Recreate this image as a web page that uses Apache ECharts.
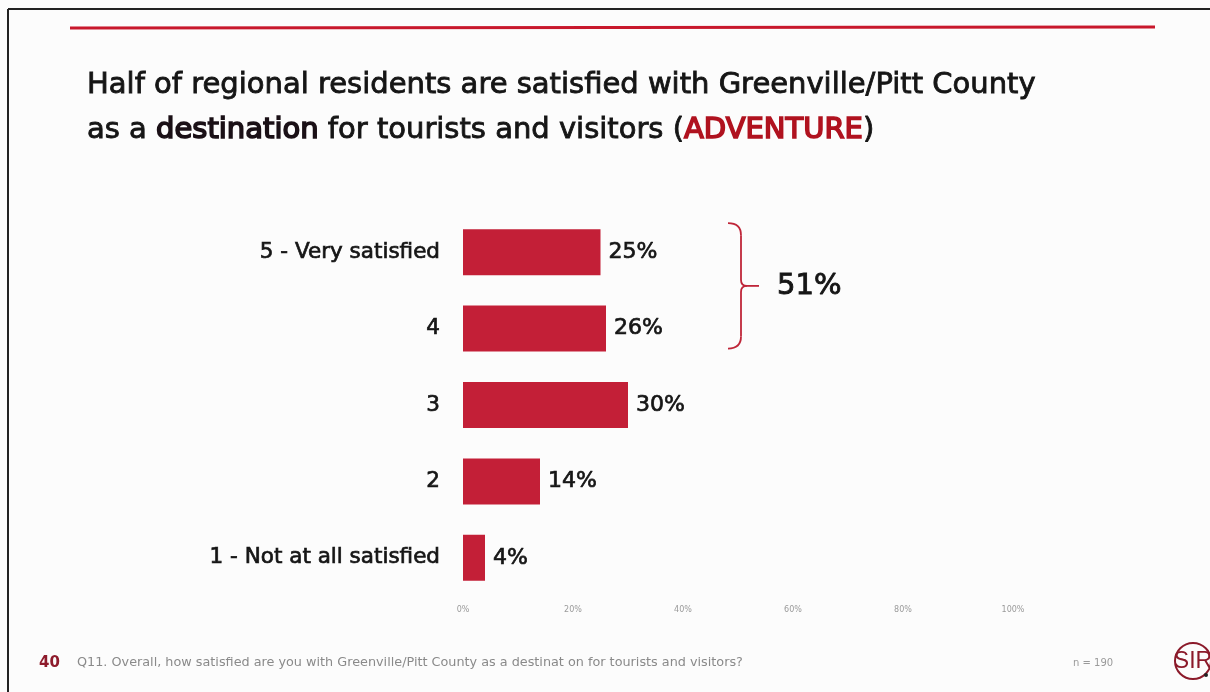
<!DOCTYPE html>
<html>
<head>
<meta charset="utf-8">
<script src="https://cdn.jsdelivr.net/npm/echarts@6/dist/echarts.min.js"></script>
<style>
  html, body { margin: 0; padding: 0; background: #fcfcfc; }
  #chart { width: 1210px; height: 692px; }
</style>
</head>
<body>
<div id="chart"></div>
<script>
// Satisfaction scale, top to bottom
const categories = ['5 - Very satisfied', '4', '3', '2', '1 - Not at all satisfied'];
// Share of respondents (%)
const shares = [25, 26, 30, 14, 4];
// Value-axis tick labels
const axisTicks = [0, 20, 40, 60, 80, 100];
const sampleSize = 190;
const pageNumber = 40;
const questionText = 'Q11. Overall, how satisfied are you with Greenville/Pitt County as a destinat on for tourists and visitors?';

const RED = '#c31f37';
const INK = '#151515';
const FONT = '"DejaVu Sans", Verdana, sans-serif';

// Top-two box: "5" + "4"
const topTwo = shares[0] + shares[1];

// a light outline in the text colour gives a medium weight
const medium = (color, w) => ({ color, textBorderColor: color, textBorderWidth: w });

const chart = echarts.init(document.getElementById('chart'), null, { renderer: 'canvas' });

const titleBase = { fontFamily: FONT, fontSize: 29, fontWeight: 'normal', lineHeight: 45 };

const option = {
  backgroundColor: '#fcfcfc',
  animation: false,
  title: {
    left: 87,
    top: 63,
    padding: 0,
    text: '{n|Half of regional residents are satisfied with Greenville/Pitt County}\n{n|as a }{b|destination}{n| for tourists and visitors (}{r|ADVENTURE}{n|)}',
    textStyle: {
      fontWeight: 'normal',
      rich: {
        n: Object.assign({}, titleBase, medium(INK, 0.85)),
        b: Object.assign({}, titleBase, medium('#1a1016', 1.6)),
        r: Object.assign({}, titleBase, medium('#b0121f', 1.6))
      }
    }
  },
  grid: { left: 463, right: 197, top: 214, bottom: 96, containLabel: false },
  xAxis: {
    type: 'value',
    min: axisTicks[0],
    max: axisTicks[axisTicks.length - 1],
    interval: axisTicks[1] - axisTicks[0],
    axisLine: { show: false },
    axisTick: { show: false },
    splitLine: { show: false },
    axisLabel: {
      formatter: v => v + '%',
      color: '#9a9a9a',
      fontFamily: FONT,
      fontSize: 8,
      margin: 10
    }
  },
  yAxis: {
    type: 'category',
    data: categories,
    inverse: true,
    axisLine: { show: false },
    axisTick: { show: false },
    axisLabel: Object.assign({
      fontFamily: FONT,
      fontSize: 21.5,
      margin: 23
    }, medium(INK, 0.7))
  },
  series: [{
    type: 'bar',
    data: shares,
    barWidth: 46,
    itemStyle: { color: RED },
    label: Object.assign({
      show: true,
      position: 'right',
      distance: 8,
      formatter: p => p.value + '%',
      fontFamily: FONT,
      fontSize: 22
    }, medium(INK, 0.7))
  }]
};

chart.setOption(option);

// Brace grouping the top two bars, positioned from the axes
function drawAnnotations() {
  const yTop = chart.convertToPixel({ yAxisIndex: 0 }, categories[0]) - 29;
  const yBot = chart.convertToPixel({ yAxisIndex: 0 }, categories[1]) + 20;
  const yMid = (yTop + yBot) / 2;
  const x = 741;
  const r = 6;
  const braceStyle = { stroke: '#bf2639', lineWidth: 1.8, fill: null };

  chart.setOption({
    graphic: [
      // page frame
      { type: 'line', shape: { x1: 8, y1: 9, x2: 1210, y2: 9 }, style: { stroke: '#222', lineWidth: 2 } },
      { type: 'line', shape: { x1: 8, y1: 9, x2: 8, y2: 692 }, style: { stroke: '#222', lineWidth: 2 } },
      // header rule
      { type: 'line', shape: { x1: 70, y1: 28, x2: 1155, y2: 27 }, style: { stroke: '#c8182c', lineWidth: 3 } },
      // brace
      { type: 'bezierCurve', shape: { x1: x - 13, y1: yTop, cpx1: x, cpy1: yTop, x2: x, y2: yTop + r * 2 }, style: braceStyle },
      { type: 'line', shape: { x1: x, y1: yTop + r * 2, x2: x, y2: yMid - r }, style: braceStyle },
      { type: 'bezierCurve', shape: { x1: x, y1: yMid - r, cpx1: x, cpy1: yMid, x2: x + r, y2: yMid }, style: braceStyle },
      { type: 'bezierCurve', shape: { x1: x + r, y1: yMid, cpx1: x, cpy1: yMid, x2: x, y2: yMid + r }, style: braceStyle },
      { type: 'line', shape: { x1: x + r, y1: yMid, x2: x + 18, y2: yMid }, style: braceStyle },
      { type: 'line', shape: { x1: x, y1: yMid + r, x2: x, y2: yBot - r * 2 }, style: braceStyle },
      { type: 'bezierCurve', shape: { x1: x, y1: yBot - r * 2, cpx1: x, cpy1: yBot, x2: x - 13, y2: yBot }, style: braceStyle },
      // net value
      {
        type: 'text', x: 777, y: yMid + 1, style: {
          text: topTwo + '%', fontFamily: FONT, fontSize: 29,
          fill: INK, stroke: INK, lineWidth: 0.9, verticalAlign: 'middle'
        }
      },
      // footer
      {
        type: 'text', x: 39, y: 663, style: {
          text: String(pageNumber), fontFamily: FONT, fontSize: 15, fontWeight: 'bold',
          fill: '#8e1b2c', verticalAlign: 'middle'
        }
      },
      {
        type: 'text', x: 77, y: 663, style: {
          text: questionText, fontFamily: FONT, fontSize: 12.8,
          fill: '#8a8a8a', verticalAlign: 'middle'
        }
      },
      {
        type: 'text', x: 1073, y: 663, style: {
          text: 'n = ' + sampleSize, fontFamily: FONT, fontSize: 10,
          fill: '#9a9a9a', verticalAlign: 'middle'
        }
      },
      // logo
      { type: 'circle', shape: { cx: 1193, cy: 661, r: 18 }, style: { fill: '#fcfcfc', stroke: '#8b1a2a', lineWidth: 2 } },
      {
        type: 'text', x: 1193, y: 662, style: {
          text: 'SIR', fontFamily: '"Liberation Sans Narrow", "Liberation Sans", sans-serif', fontSize: 23,
          fill: '#8b1a2a', align: 'center', verticalAlign: 'middle'
        }
      },
      { type: 'circle', shape: { cx: 1206, cy: 675, r: 2 }, style: { fill: '#222' } }
    ]
  });
}

drawAnnotations();
</script>
</body>
</html>
